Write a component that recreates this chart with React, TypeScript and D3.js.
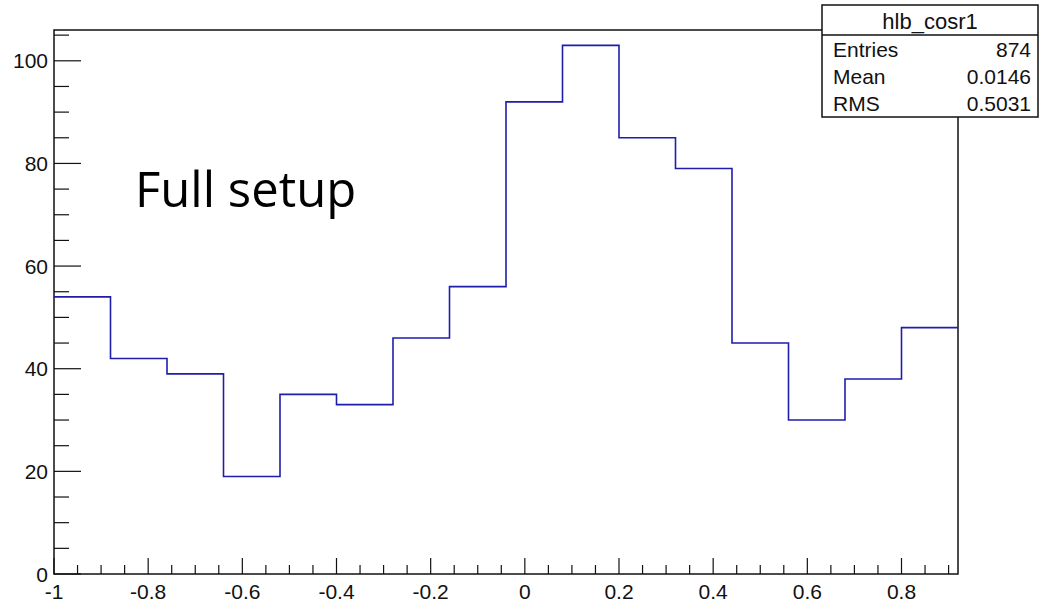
import { useMemo } from 'react';
import { scaleLinear, range, line, curveStepAfter } from 'd3';

const width = 1040;
const height = 603;

// histogram hlb_cosr1, 16 bins of 0.12 from -1 to 0.92
const binEdges = [-1, -0.88, -0.76, -0.64, -0.52, -0.4, -0.28, -0.16, -0.04, 0.08, 0.2, 0.32, 0.44, 0.56, 0.68, 0.8, 0.92];
const counts = [54, 42, 39, 19, 35, 33, 46, 56, 92, 103, 85, 79, 45, 30, 38, 48];

const xTickLabels = [-1, -0.8, -0.6, -0.4, -0.2, 0, 0.2, 0.4, 0.6, 0.8];
const yTickLabels = [0, 20, 40, 60, 80, 100];

const statsTitle = 'hlb_cosr1';
const statsNames = ['Entries', 'Mean', 'RMS'];
const statsValues = ['874', '0.0146', '0.5031'];

const margin = { left: 54, top: 30, right: 958, bottom: 574 };
const lineColor = '#1e1eaa';
const font = '"Liberation Sans", Arial, sans-serif';

const App = () => {
  const x = scaleLinear().domain([-1, 0.92]).range([margin.left, margin.right]);
  const y = scaleLinear().domain([0, 106]).range([margin.bottom, margin.top]);

  const histPath = useMemo(() => {
    const pts: [number, number][] = counts.map((c, i) => [binEdges[i], c]);
    pts.push([binEdges[binEdges.length - 1], counts[counts.length - 1]]);
    return line<[number, number]>()
      .x(d => x(d[0]))
      .y(d => y(d[1]))
      .curve(curveStepAfter)(pts);
  }, []);

  const xTicks = range(0, 39).map(i => -1 + i * 0.05).filter(v => v <= 0.921);
  const yTicks = range(0, 22).map(i => i * 5);

  return (
    <svg width={width} height={height} style={{ position: 'absolute', left: 0, top: 0, background: '#fff' }}>
      {/* frame */}
      <rect x={margin.left} y={margin.top} width={margin.right - margin.left} height={margin.bottom - margin.top}
        fill="none" stroke="#111" strokeWidth={1.5} />

      {/* x ticks */}
      {xTicks.map((v, i) => {
        const major = i % 4 === 0;
        return (
          <line key={'xt' + i} x1={x(v)} x2={x(v)} y1={margin.bottom} y2={margin.bottom - (major ? 16 : 9)}
            stroke="#111" strokeWidth={1.2} />
        );
      })}
      {xTickLabels.map(v => (
        <text key={'xl' + v} x={x(v)} y={599} textAnchor="middle" fontFamily={font} fontSize={21} fill="#111">
          {v}
        </text>
      ))}

      {/* y ticks */}
      {yTicks.map((v, i) => {
        const major = i % 4 === 0;
        return (
          <line key={'yt' + i} x1={margin.left} x2={margin.left + (major ? 27 : 15)} y1={y(v)} y2={y(v)}
            stroke="#111" strokeWidth={1.2} />
        );
      })}
      {yTickLabels.map(v => (
        <text key={'yl' + v} x={48} y={y(v)} dy="0.36em" textAnchor="end" fontFamily={font} fontSize={21} fill="#111">
          {v}
        </text>
      ))}

      {/* histogram */}
      <path d={histPath || ''} fill="none" stroke={lineColor} strokeWidth={1.6} />

      <text x={135} y={207} fontFamily='"Open Sans", sans-serif' fontSize={49} fill="#000">Full setup</text>

      {/* stats box */}
      <g>
        <rect x={822} y={5} width={216} height={112} fill="#fff" stroke="#111" strokeWidth={1.5} />
        <line x1={822} x2={1038} y1={35} y2={35} stroke="#111" strokeWidth={1.5} />
        <text x={930} y={29} textAnchor="middle" fontFamily={font} fontSize={22} fill="#111">{statsTitle}</text>
        {statsNames.map((n, i) => (
          <g key={n}>
            <text x={833} y={57 + i * 27} fontFamily={font} fontSize={21} fill="#111">{n}</text>
            <text x={1031} y={57 + i * 27} textAnchor="end" fontFamily={font} fontSize={21} fill="#111">{statsValues[i]}</text>
          </g>
        ))}
      </g>
    </svg>
  );
};

export default App;
